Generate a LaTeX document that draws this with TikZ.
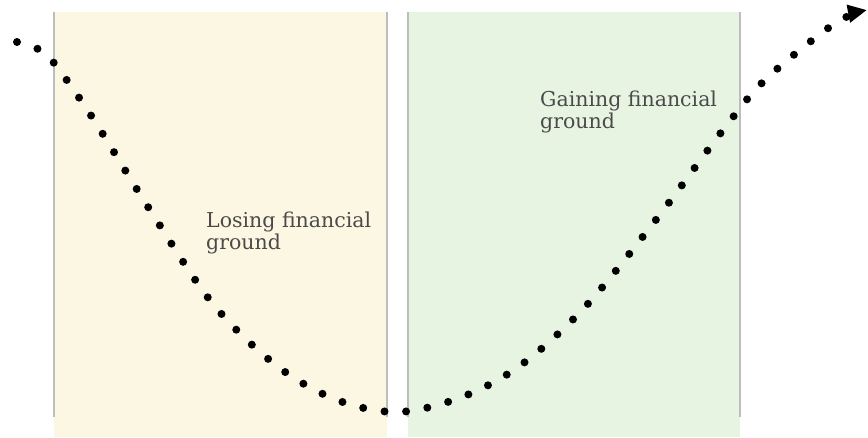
\documentclass[tikz,border=0pt]{standalone}
\usepackage{fontspec}
\usepackage{xcolor}
\usepackage{tikz}
\usetikzlibrary{arrows.meta}
\setmainfont{DejaVu Serif}
\definecolor{losingbg}{HTML}{FCF7E2}
\definecolor{gainingbg}{HTML}{E7F4E2}
\definecolor{panelrule}{HTML}{BDBDBD}
\definecolor{labeltext}{HTML}{4A4A4A}
\tikzset{%
    panel rule/.style={
            draw=panelrule,
            line width=1.5pt
        },
    dotline/.style={
            line width=8pt,
            line cap=round,
            dash pattern=on 0pt off 21.6pt,
            -{Triangle[length=19pt,width=17pt]}
        },
    ground label/.style={
            anchor=north west,
            inner sep=0pt,
            align=left,
            text=labeltext,
            font=\fontsize{20.5}{22}\selectfont
        },
}

\begin{document}
\begin{tikzpicture}[x=1pt, y=-1pt]

        \useasboundingbox (0,0) rectangle (868,437);
        \clip (0,0) rectangle (868,437);

        % the two shaded panels
        \foreach \l/\r/\c in {54/387/losingbg, 408/740/gainingbg} {
            \fill [\c] (\l,12) rectangle (\r,437);
            \draw [panel rule] (\l,12) -- (\l,417);
            \draw [panel rule] (\r,12) -- (\r,417);
        }

        \node [ground label] (losing) at (206,212) {Losing financial\\ground};
        \node [ground label] (gaining) at (540,91) {Gaining financial\\ground};

        % dotted swing down and back up
        \draw [dotline] plot [smooth, tension=0.55] coordinates {
            (17,42) (38,49) (54,63) (92,117) (150,210) (213,304)
            (277,366) (337,400) (398,412) (462,397) (521,365)
            (585,307) (655,221) (723,130) (766,79) (834,24) (867,10)
        };

    \end{tikzpicture}
\end{document}
